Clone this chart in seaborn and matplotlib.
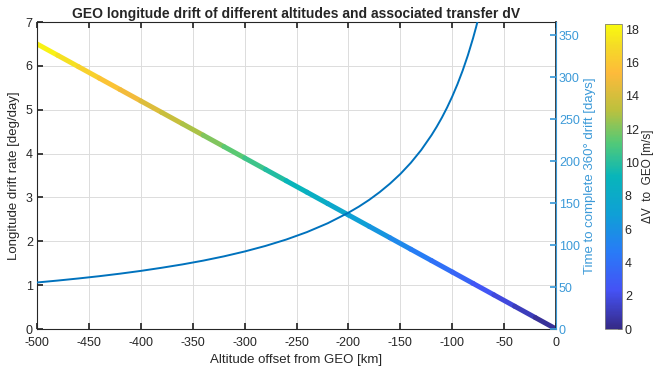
import numpy as np
import pandas as pd
import matplotlib
matplotlib.use('Agg')
import matplotlib.pyplot as plt
import seaborn as sns
from matplotlib.collections import LineCollection
from matplotlib.colors import LinearSegmentedColormap, Normalize

# 고도 오프셋별 드리프트율 및 전이 dV
altitude = [-500, -480, -460, -440, -420, -400, -380, -360, -340, -320, -300, -280, -260,
            -240, -220, -200, -180, -160, -140, -120, -100, -80, -60, -40, -20, 0]
drift_rate = [6.50, 6.24, 5.98, 5.72, 5.46, 5.20, 4.94, 4.68, 4.42, 4.16, 3.90, 3.64, 3.38,
              3.12, 2.86, 2.60, 2.34, 2.08, 1.82, 1.56, 1.30, 1.04, 0.78, 0.52, 0.26, 0.00]
delta_v = [18.30, 17.57, 16.84, 16.10, 15.37, 14.64, 13.91, 13.18, 12.44, 11.71, 10.98, 10.25, 9.52,
           8.78, 8.05, 7.32, 6.59, 5.86, 5.12, 4.39, 3.66, 2.93, 2.20, 1.46, 0.73, 0.00]

# 360도 드리프트 소요 시간
altitude_t = [-500, -480, -460, -440, -420, -400, -380, -360, -340, -320, -300, -280, -260, -240,
              -220, -200, -190, -180, -170, -160, -150, -140, -130, -120, -115, -110, -105, -100,
              -95, -90, -85, -80, -77, -74, -71]
drift_days = [55.4, 57.7, 60.2, 62.9, 65.9, 69.2, 72.9, 76.9, 81.4, 86.5, 92.3, 98.9, 106.5, 115.4,
              125.9, 138.5, 145.7, 153.8, 162.9, 173.1, 184.6, 197.8, 213.0, 230.8, 240.8, 251.7,
              263.7, 276.9, 291.5, 307.7, 325.8, 346.2, 359.7, 374.2, 390.0]

# MATLAB parula 근사
parula = LinearSegmentedColormap.from_list('parula', [
    (0.0, (0.2081, 0.1663, 0.5292)), (0.125, (0.2700, 0.3200, 0.9600)),
    (0.25, (0.1600, 0.4800, 0.9700)), (0.375, (0.0600, 0.6250, 0.8400)),
    (0.5, (0.0300, 0.7100, 0.7300)), (0.61, (0.3200, 0.7900, 0.4700)),
    (0.72, (0.7400, 0.7550, 0.2400)), (0.84, (0.9950, 0.7300, 0.2300)),
    (0.93, (0.9600, 0.8600, 0.1500)), (1.0, (0.9763, 0.9831, 0.0538))])

sns.set_theme(style='white')
plt.rcParams['font.family'] = ['Liberation Sans', 'DejaVu Sans']
plt.rcParams['axes.unicode_minus'] = False

dark = '#262626'
right_col = '#3C9AD8'
line_col = '#0072BD'

fig = plt.figure(figsize=(6.55, 3.67), dpi=100)
ax = fig.add_axes([0.0565, 0.1035, 0.7925, 0.8365])

# 색상 라인 (dV 기준)
pts = np.column_stack([altitude, drift_rate]).reshape(-1, 1, 2)
segs = np.concatenate([pts[:-1], pts[1:]], axis=1)
dv = np.array(delta_v)
norm = Normalize(vmin=0, vmax=18.3)
lc = LineCollection(segs, cmap=parula, norm=norm, linewidth=3.6, capstyle='round')
lc.set_array((dv[:-1] + dv[1:]) / 2)
ax.add_collection(lc)

ax.set_xlim(-500, 0)
ax.set_ylim(0, 7)
ax.set_xticks(range(-500, 1, 50))
ax.set_yticks(range(0, 8))
ax.grid(True, color='#DCDCDC', linewidth=0.7)
ax.set_axisbelow(True)
ax.tick_params(direction='in', length=4, labelsize=9, colors=dark, top=True, bottom=True, left=True,
               pad=3)
ax.tick_params(axis='x', labeltop=False, pad=6)
for s in ['left', 'bottom', 'top']:
    ax.spines[s].set_color(dark)
    ax.spines[s].set_linewidth(0.8)
ax.set_xlabel('Altitude offset from GEO [km]', fontsize=9.5, color=dark, labelpad=3)
ax.set_ylabel('Longitude drift rate [deg/day]', fontsize=9.5, color=dark, labelpad=4)
ax.set_title('GEO longitude drift of different altitudes and associated transfer dV',
             fontsize=10, fontweight='bold', color=dark, pad=3)

# 오른쪽 축: 소요 시간
ax2 = ax.twinx()
df_t = pd.DataFrame({'alt': altitude_t, 'days': drift_days})
sns.lineplot(data=df_t, x='alt', y='days', ax=ax2, color=line_col, linewidth=1.4)
ax2.set_ylim(0, 365.5)
ax2.set_yticks(range(0, 351, 50))
ax2.set_xlim(-500, 0)
ax2.set_xlabel('')
ax2.set_ylabel('Time to complete 360° drift [days]', fontsize=9.5, color=right_col, labelpad=3)
ax2.tick_params(axis='y', direction='in', length=4, labelsize=9, colors=right_col, pad=2, right=True)
ax2.spines['right'].set_color(right_col)
ax2.spines['right'].set_linewidth(0.8)
for s in ['left', 'bottom', 'top']:
    ax2.spines[s].set_visible(False)

# 컬러바
cax = fig.add_axes([0.9237, 0.1035, 0.026, 0.831])
sm = plt.cm.ScalarMappable(cmap=parula, norm=norm)
cb = fig.colorbar(sm, cax=cax)
cb.set_ticks(range(0, 19, 2))
cb.ax.tick_params(direction='in', length=3, labelsize=9, colors=dark, pad=2)
cb.outline.set_edgecolor('#808080')
cb.outline.set_linewidth(0.6)
cb.set_label('ΔV  to  GEO [m/s]', fontsize=8.5, color=dark, labelpad=2)

fig.savefig('out.png', dpi=100)
